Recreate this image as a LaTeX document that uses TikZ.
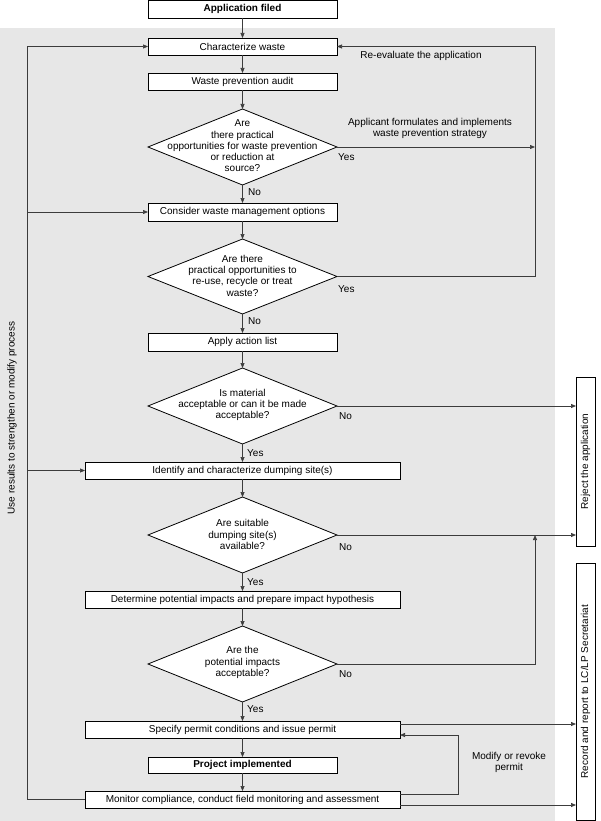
\documentclass[tikz,border=0pt]{standalone}
\usepackage{fontspec}
\setmainfont{Liberation Sans}
\usetikzlibrary{shapes.geometric,arrows.meta}
\definecolor{bg}{RGB}{231,231,231}
\definecolor{ln}{RGB}{60,60,60}
\begin{document}
\begin{tikzpicture}[x=1pt,y=-1pt,
  font=\fontsize{10}{11.3}\selectfont,
  box/.style={draw=black,fill=white,line width=0.8pt,minimum height=17pt,inner sep=0pt,outer sep=0pt},
  nbox/.style={box,minimum width=189pt},
  wbox/.style={box,minimum width=315pt},
  sbox/.style={draw=black,fill=white,line width=0.8pt,rotate=90,minimum height=19pt,inner sep=0pt,outer sep=0pt},
  dia/.style={draw=black,fill=white,diamond,line width=0.8pt,minimum width=189pt,minimum height=76pt,inner sep=0pt,outer sep=0pt},
  dtext/.style={align=center,inner sep=0pt},
  conn/.style={draw=ln,line width=0.7pt},
  arr/.style={conn,-{Triangle[length=5pt,width=4pt]}},
  lbl/.style={inner sep=0pt,anchor=west},
  txt/.style={align=center,inner sep=0pt}
]
\useasboundingbox (0,0) rectangle (600,821);
\fill[bg] (0,28) rectangle (555,821);

% boxes
\node[nbox,minimum height=18pt,font=\fontsize{10}{11.3}\selectfont\bfseries] (app) at (242.5,9) {Application filed};
\node[nbox] (char) at (242.5,46.5) {Characterize waste};
\node[nbox] (audit) at (242.5,81.5) {Waste prevention audit};
\node[dia] (d1) at (242.5,147) {};
\node[dtext] (d1t) at (242.5,146) {Are\\there practical\\opportunities for waste prevention\\or reduction at\\source?};
\node[nbox,minimum height=18pt] (cons) at (242.5,212) {Consider waste management options};
\node[dia,minimum height=75pt] (d2) at (242.5,276.5) {};
\node[dtext] (d2t) at (242.5,275.5) {Are there\\practical opportunities to\\re-use, recycle or treat\\waste?};
\node[nbox,minimum height=18pt] (apply) at (242.5,342) {Apply action list};
\node[dia] (d3) at (242.5,406) {};
\node[dtext] (d3t) at (242.5,405) {Is material\\acceptable or can it be made\\acceptable?};
\node[wbox] (ident) at (242.5,470.5) {Identify and characterize dumping site(s)};
\node[dia] (d4) at (242.5,535) {};
\node[dtext] (d4t) at (242.5,534.5) {Are suitable\\dumping site(s)\\available?};
\node[wbox] (det) at (242.5,599.5) {Determine potential impacts and prepare impact hypothesis};
\node[dia] (d5) at (242.5,664) {};
\node[dtext] (d5t) at (242.5,662.5) {Are the\\potential impacts\\acceptable?};
\node[wbox] (spec) at (242.5,729.5) {Specify permit conditions and issue permit};
\node[nbox,minimum height=16pt,font=\fontsize{10}{11.3}\selectfont\bfseries] (proj) at (242.5,765) {Project implemented};
\node[wbox] (mon) at (242.5,799.5) {Monitor compliance, conduct field monitoring and assessment};

\node[sbox,minimum width=169pt] (rej) at (585.5,461.5) {Reject the application};
\node[sbox,minimum width=257pt] (rec) at (585.5,691.5) {Record and report to LC/LP Secretariat};

% labels
\node[lbl] (y1) at (338,157) {Yes};
\node[lbl] (n1) at (248,192) {No};
\node[lbl] (y2) at (338,289) {Yes};
\node[lbl] (n2) at (248,321) {No};
\node[lbl] (n3) at (339,416) {No};
\node[lbl] (y3) at (247,453) {Yes};
\node[lbl] (n4) at (339,547) {No};
\node[lbl] (y4) at (247,582) {Yes};
\node[lbl] (n5) at (339,674) {No};
\node[lbl] (y5) at (247,709) {Yes};
\node[txt] (reeval) at (421,56) {Re-evaluate the application};
\node[txt] (strat) at (430,128.5) {Applicant formulates and implements\\waste prevention strategy};
\node[txt] (modify) at (509,762.5) {Modify or revoke\\permit};
\node[txt,rotate=90] (use) at (12,418) {Use results to strengthen or modify process};

% main flow
\draw[arr] (app.south) -- (char.north);
\draw[arr] (char.south) -- (audit.north);
\draw[arr] (audit.south) -- (d1.north);
\draw[arr] (d1.south) -- (cons.north);
\draw[arr] (cons.south) -- (d2.north);
\draw[arr] (d2.south) -- (apply.north);
\draw[arr] (apply.south) -- (d3.north);
\draw[arr] (d3.south) -- (ident.north);
\draw[arr] (ident.south) -- (d4.north);
\draw[arr] (d4.south) -- (det.north);
\draw[arr] (det.south) -- (d5.north);
\draw[arr] (d5.south) -- (spec.north);
\draw[arr] (spec.south) -- (proj.north);
\draw[arr] (proj.south) -- (mon.north);

% left feedback
\coordinate (lb) at (27,799.5);
\coordinate (lt) at (27,46.5);
\coordinate (lc) at (27,212);
\coordinate (li) at (27,470.5);
\draw[arr] (mon.west) -- (lb) -- (lt) -- (char.west);
\draw[arr] (lc) -- (cons.west);
\draw[arr] (li) -- (ident.west);

% right loop
\coordinate (rt) at (535,46.5);
\coordinate (r1) at (535,147);
\coordinate (r2) at (535,276.5);
\draw[arr] (d2.east) -- (r2) -- (rt) -- (char.east);
\draw[arr] (d1.east) -- (r1);

% rejection
\draw[arr] (d3.east) -- (d3.east -| rej.north);
\draw[arr] (d4.east) -- (d4.east -| rej.north);
\coordinate (r5) at (535,664);
\coordinate (r4) at (535,535);
\draw[arr] (d5.east) -- (r5) -- (r4);

% record
\draw[arr] ([yshift=5.5pt]spec.east) -- ([yshift=5.5pt]spec.east -| rec.north);
\draw[arr] ([yshift=-5.5pt]mon.east) -- ([yshift=-5.5pt]mon.east -| rec.north);

% modify loop
\coordinate (m1) at (458,794);
\coordinate (m2) at (458,735);
\draw[arr] ([yshift=5.5pt]mon.east) -- (m1) -- (m2) -- ([yshift=-5.5pt]spec.east);
\end{tikzpicture}
\end{document}
